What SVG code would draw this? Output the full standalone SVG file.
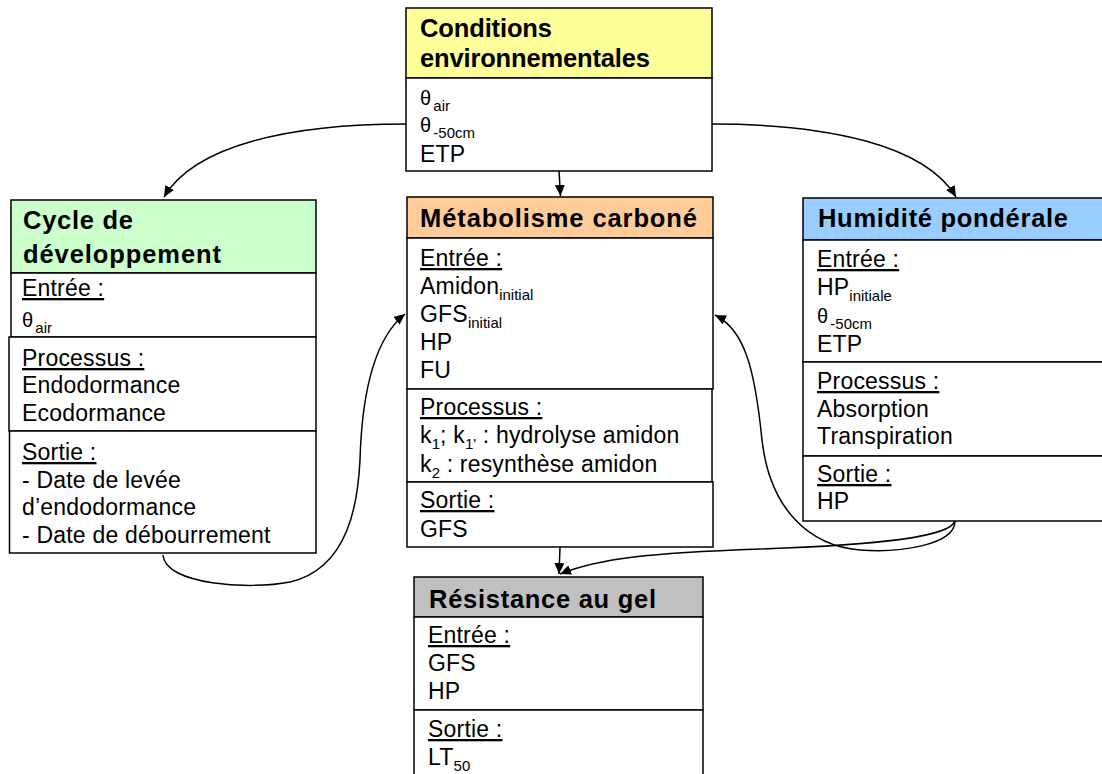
<svg xmlns="http://www.w3.org/2000/svg" width="1102" height="774" viewBox="0 0 1102 774">
<style>
.box{stroke:#000;stroke-width:1.5;fill:#fff}
.hd{font-family:"Liberation Sans",Arial,sans-serif;font-weight:bold;font-size:25.5px;fill:#000}
.t{font-family:"Liberation Sans",Arial,sans-serif;font-size:23px;letter-spacing:0.2px;fill:#000}
.u{text-decoration:underline}
.sub{font-size:15px;letter-spacing:0}
.th{font-size:20px}
.conn{fill:none;stroke:#000;stroke-width:1.5}
</style>
<defs>
<marker id="arr" markerUnits="userSpaceOnUse" markerWidth="12" markerHeight="10" refX="11" refY="5" orient="auto">
<path d="M0,0 L11,5 L0,10 z" fill="#000"/>
</marker>
</defs>
<rect width="1102" height="774" fill="#fff"/>

<g id="connectors">
<path class="conn" d="M559,171 L560.5,196" marker-end="url(#arr)"/>
<path class="conn" d="M406,124 C290,124 195,145 164,197" marker-end="url(#arr)"/>
<path class="conn" d="M712,124 C828,124 925,145 956,197" marker-end="url(#arr)"/>
<path class="conn" d="M163,555 C165,585 250,590 290,582 C350,568 358,500 360,460 C362,390 375,338 405,314" marker-end="url(#arr)"/>
<path class="conn" d="M955,521 C955,545 900,553 860,550 C810,546 770,510 762,440 C755,370 745,330 715,315" marker-end="url(#arr)"/>
<path class="conn" d="M955,521 C950,537 880,545 760,549 C650,553 600,558 560,574" marker-end="url(#arr)"/>
<path class="conn" d="M560,547 L559,574" marker-end="url(#arr)"/>
</g>

<g id="conditions">
<rect class="box" x="406" y="8" width="306" height="70" style="fill:#FFFF99"/>
<rect class="box" x="406" y="78" width="306" height="93"/>
<text class="hd" x="420" y="37" textLength="132" lengthAdjust="spacing">Conditions</text>
<text class="hd" x="420" y="67" textLength="230" lengthAdjust="spacing">environnementales</text>
<text class="t" x="420" y="105"><tspan class="th">θ</tspan><tspan class="sub" dx="2" dy="6">air</tspan></text>
<text class="t" x="420" y="132"><tspan class="th">θ</tspan><tspan class="sub" dx="2" dy="6">-50cm</tspan></text>
<text class="t" x="420" y="162">ETP</text>
</g>

<g id="cycle">
<rect class="box" x="11" y="200" width="305" height="73" style="fill:#CCFFCC"/>
<rect class="box" x="11" y="273" width="305" height="64"/>
<rect class="box" x="9" y="337" width="307" height="94"/>
<rect class="box" x="9.5" y="431" width="306.5" height="122"/>
<text class="hd" x="23" y="229" textLength="110" lengthAdjust="spacing">Cycle de</text>
<text class="hd" x="23" y="263" textLength="198" lengthAdjust="spacing">développement</text>
<text class="t u" x="22" y="296">Entrée :</text>
<text class="t" x="22" y="327"><tspan class="th">θ</tspan><tspan class="sub" dx="2" dy="6">air</tspan></text>
<text class="t u" x="22" y="366">Processus :</text>
<text class="t" x="22" y="393">Endodormance</text>
<text class="t" x="22" y="421">Ecodormance</text>
<text class="t u" x="22" y="460">Sortie :</text>
<text class="t" x="22" y="488">- Date de levée</text>
<text class="t" x="22" y="515">d’endodormance</text>
<text class="t" x="22" y="543">- Date de débourrement</text>
</g>

<g id="metabolisme">
<rect class="box" x="407" y="197" width="306" height="41" style="fill:#FFCC99"/>
<rect class="box" x="407" y="238" width="306" height="151"/>
<rect class="box" x="407" y="389" width="305" height="93"/>
<rect class="box" x="407" y="482" width="306" height="65"/>
<text class="hd" x="420" y="227" textLength="277" lengthAdjust="spacing">Métabolisme carboné</text>
<text class="t u" x="420" y="266">Entrée :</text>
<text class="t" x="420" y="294">Amidon<tspan class="sub" dy="6">initial</tspan></text>
<text class="t" x="420" y="322">GFS<tspan class="sub" dy="6">initial</tspan></text>
<text class="t" x="420" y="350">HP</text>
<text class="t" x="420" y="378">FU</text>
<text class="t u" x="420" y="415">Processus :</text>
<text class="t" x="420" y="443">k<tspan class="sub" dy="6">1</tspan><tspan dy="-6">; k</tspan><tspan class="sub" dy="6">1'</tspan><tspan dy="-6"> : hydrolyse amidon</tspan></text>
<text class="t" x="420" y="472">k<tspan class="sub" dy="6">2</tspan><tspan dy="-6"> : resynthèse amidon</tspan></text>
<text class="t u" x="420" y="508">Sortie :</text>
<text class="t" x="420" y="537">GFS</text>
</g>

<g id="humidite">
<rect class="box" x="803" y="198" width="310" height="42" style="fill:#99CCFF"/>
<rect class="box" x="803" y="240" width="310" height="122"/>
<rect class="box" x="803" y="362" width="310" height="94"/>
<rect class="box" x="803" y="456" width="310" height="65"/>
<text class="hd" x="818" y="227" textLength="250" lengthAdjust="spacing">Humidité pondérale</text>
<text class="t u" x="817" y="267">Entrée :</text>
<text class="t" x="817" y="295">HP<tspan class="sub" dy="6">initiale</tspan></text>
<text class="t" x="817" y="323"><tspan class="th">θ</tspan><tspan class="sub" dx="2" dy="6">-50cm</tspan></text>
<text class="t" x="817" y="352">ETP</text>
<text class="t u" x="817" y="389">Processus :</text>
<text class="t" x="817" y="417">Absorption</text>
<text class="t" x="817" y="444">Transpiration</text>
<text class="t u" x="817" y="482">Sortie :</text>
<text class="t" x="817" y="509">HP</text>
</g>

<g id="resistance">
<rect class="box" x="414" y="577" width="289" height="40" style="fill:#C0C0C0"/>
<rect class="box" x="414" y="617" width="289" height="93"/>
<rect class="box" x="414" y="710" width="289" height="90"/>
<text class="hd" x="429" y="608" textLength="227" lengthAdjust="spacing">Résistance au gel</text>
<text class="t u" x="428" y="643">Entrée :</text>
<text class="t" x="428" y="671">GFS</text>
<text class="t" x="428" y="699">HP</text>
<text class="t u" x="428" y="737">Sortie :</text>
<text class="t" x="428" y="765">LT<tspan class="sub" dy="6">50</tspan></text>
</g>
</svg>
